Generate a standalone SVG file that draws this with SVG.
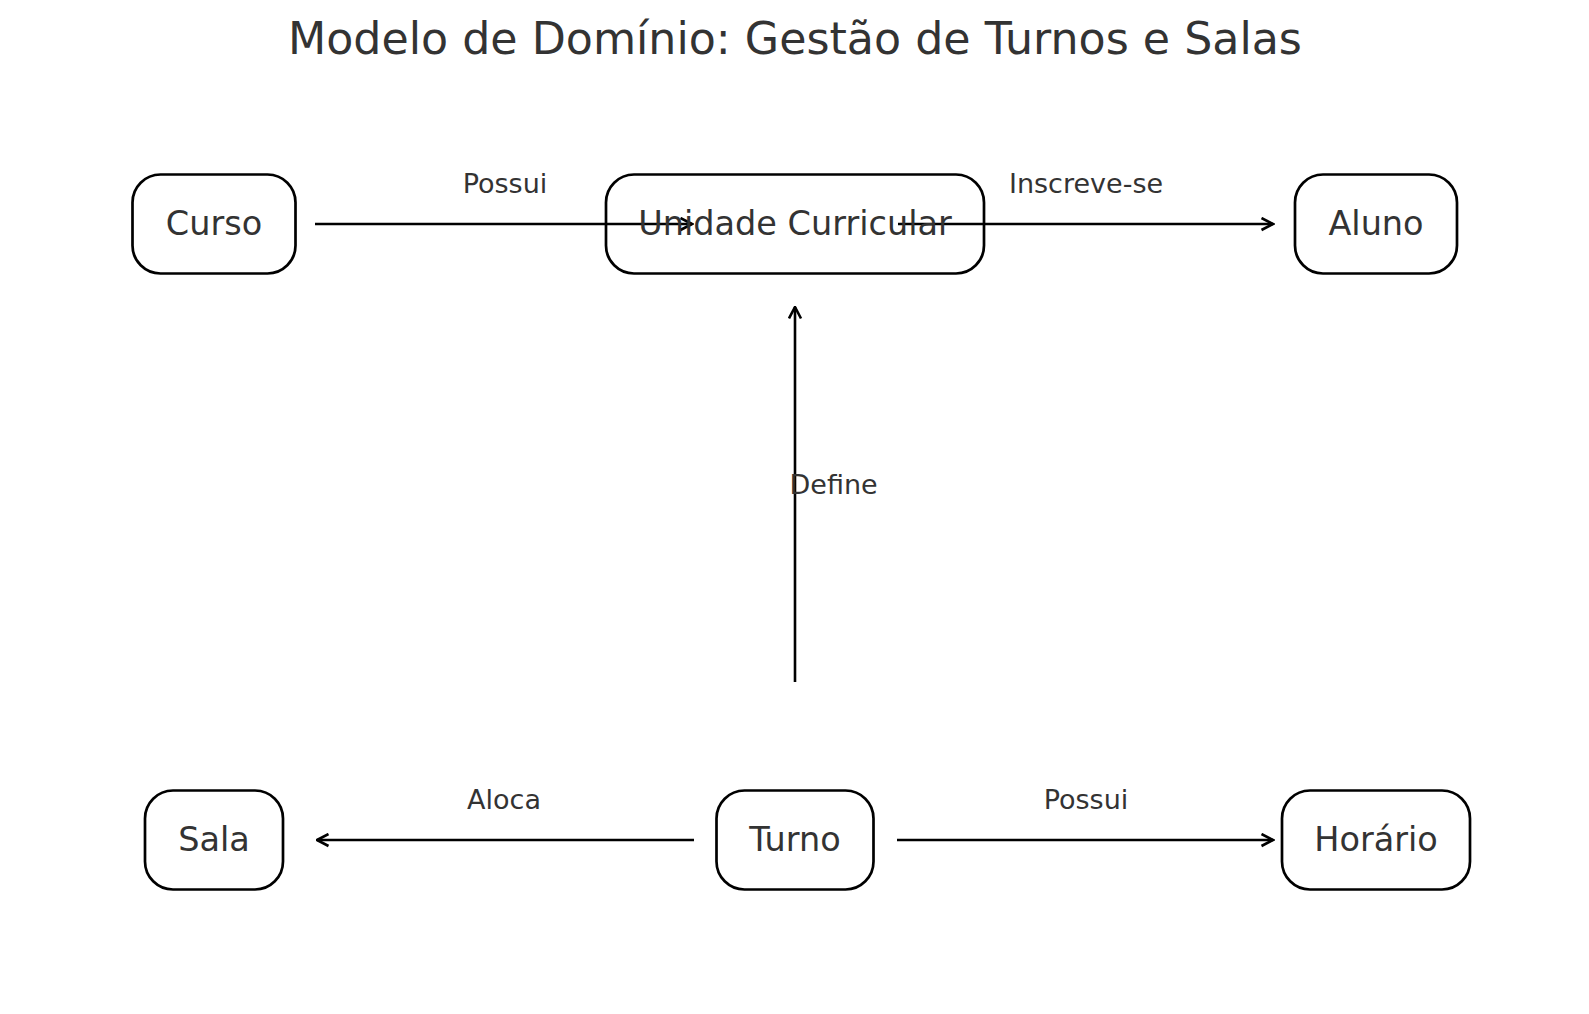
<svg xmlns="http://www.w3.org/2000/svg" width="1589" height="1014" viewBox="0 0 1589 1014">
<style>
.box{fill:#ffffff;stroke:#000000;stroke-width:2.7}
.nl{font-family:"DejaVu Sans",sans-serif;font-size:33.5px;fill:#333333;text-anchor:middle}
.el{font-family:"DejaVu Sans",sans-serif;font-size:27px;fill:#333333;text-anchor:middle}
.title{font-family:"DejaVu Sans",sans-serif;font-size:44.3px;fill:#333333;text-anchor:middle}
.edge{stroke:#000000;stroke-width:2.6;fill:none;marker-end:url(#arr)}
</style>
<defs>
<marker id="arr" viewBox="0 0 15 15" refX="13.5" refY="7.5" markerWidth="15" markerHeight="15" markerUnits="userSpaceOnUse" orient="auto">
<path d="M2,1.5 L13.5,7.5 L2,13.5" fill="none" stroke="#000000" stroke-width="2.6"/>
</marker>
</defs>
<rect width="1589" height="1014" fill="#ffffff"/>
<text class="title" x="795" y="54">Modelo de Domínio: Gestão de Turnos e Salas</text>
<g id="node-curso"><rect class="box" x="132.5" y="174.5" width="163" height="99" rx="28"/><text class="nl" x="214" y="234.5">Curso</text></g>
<g id="node-uc"><rect class="box" x="606" y="174.5" width="378" height="99" rx="28"/></g>
<g id="node-aluno"><rect class="box" x="1295" y="174.5" width="162" height="99" rx="28"/><text class="nl" x="1376" y="234.5">Aluno</text></g>
<g id="node-sala"><rect class="box" x="145" y="790.5" width="138" height="99" rx="28"/><text class="nl" x="214" y="850.5">Sala</text></g>
<g id="node-turno"><rect class="box" x="716.5" y="790.5" width="157" height="99" rx="28"/><text class="nl" x="795" y="850.5">Turno</text></g>
<g id="node-horario"><rect class="box" x="1282" y="790.5" width="188" height="99" rx="28"/><text class="nl" x="1376" y="850.5">Horário</text></g>
<g id="connectors">
<line class="edge" x1="315" y1="224" x2="692" y2="224"/>
<line class="edge" x1="898" y1="224" x2="1273" y2="224"/>
<line class="edge" x1="795" y1="682" x2="795" y2="307"/>
<line class="edge" x1="694" y1="840" x2="317" y2="840"/>
<line class="edge" x1="897" y1="840" x2="1273" y2="840"/>
<text class="el" x="505" y="193">Possui</text>
<text class="el" x="1086" y="193">Inscreve-se</text>
<text class="el" x="789.5" y="494" style="text-anchor:start">Define</text>
<text class="el" x="504" y="809">Aloca</text>
<text class="el" x="1086" y="809">Possui</text>
</g>
<text class="nl" x="795" y="234.5">Unidade Curricular</text>
</svg>
